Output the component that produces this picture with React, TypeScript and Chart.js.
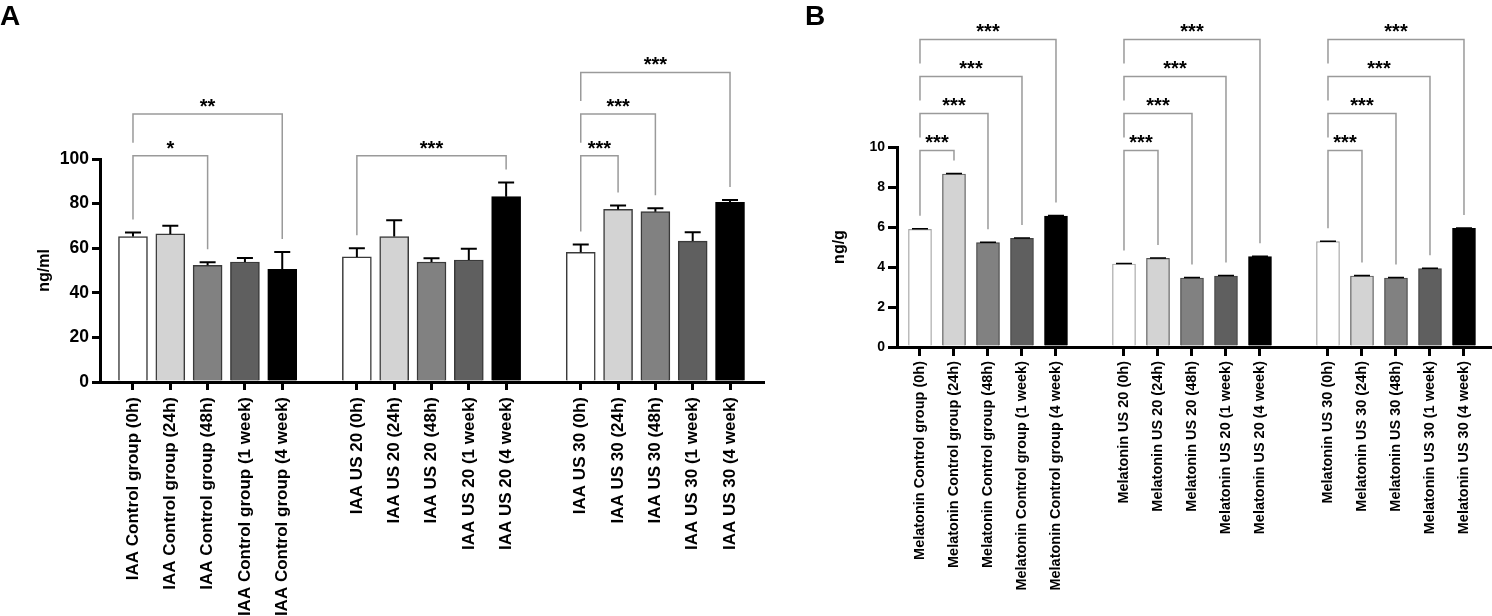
import React, { useEffect, useRef } from 'react';
import { Chart, registerables } from 'chart.js';

Chart.register(...registerables);

const FONT = "'Liberation Sans', Arial, Helvetica, sans-serif";

// ---------- Panel A data ----------
const categoriesA = [
  'IAA Control group (0h)',
  'IAA Control group (24h)',
  'IAA Control group (48h)',
  'IAA Control group (1 week)',
  'IAA Control group (4 week)',
  'IAA US 20 (0h)',
  'IAA US 20 (24h)',
  'IAA US 20 (48h)',
  'IAA US 20 (1 week)',
  'IAA US 20 (4 week)',
  'IAA US 30 (0h)',
  'IAA US 30 (24h)',
  'IAA US 30 (48h)',
  'IAA US 30 (1 week)',
  'IAA US 30 (4 week)',
];
const valuesA = [65.2, 66.4, 52.3, 53.8, 50.5, 56.1, 65.2, 53.8, 54.7, 83.1, 58.2, 77.4, 76.4, 63.2, 80.6];
const errorsA = [1.8, 3.7, 1.4, 1.8, 7.8, 3.9, 7.3, 1.7, 5.1, 6.4, 3.5, 1.8, 1.5, 3.9, 1.0];
const yTicksA = [0, 20, 40, 60, 80, 100];
// [fromBar, toBar, stackLevel, label]
const bracketsA: [number, number, number, string][] = [
  [0, 2, 0, '*'],
  [0, 4, 1, '**'],
  [5, 9, 0, '***'],
  [10, 11, 0, '***'],
  [10, 12, 1, '***'],
  [10, 14, 2, '***'],
];

// ---------- Panel B data ----------
const categoriesB = [
  'Melatonin Control group (0h)',
  'Melatonin Control group (24h)',
  'Melatonin Control group (48h)',
  'Melatonin Control group (1 week)',
  'Melatonin Control group (4 week)',
  'Melatonin US 20 (0h)',
  'Melatonin US 20 (24h)',
  'Melatonin US 20 (48h)',
  'Melatonin US 20 (1 week)',
  'Melatonin US 20 (4 week)',
  'Melatonin US 30 (0h)',
  'Melatonin US 30 (24h)',
  'Melatonin US 30 (48h)',
  'Melatonin US 30 (1 week)',
  'Melatonin US 30 (4 week)',
];
const valuesB = [5.88, 8.65, 5.22, 5.43, 6.55, 4.15, 4.43, 3.45, 3.55, 4.52, 5.27, 3.55, 3.45, 3.92, 5.93];
const errorsB = [0.03, 0.02, 0.02, 0.02, 0.02, 0.03, 0.02, 0.02, 0.03, 0.02, 0.02, 0.03, 0.02, 0.02, 0.02];
const yTicksB = [0, 2, 4, 6, 8, 10];
const bracketsB: [number, number, number, string][] = [
  [0, 1, 0, '***'],
  [0, 2, 1, '***'],
  [0, 3, 2, '***'],
  [0, 4, 3, '***'],
  [5, 6, 0, '***'],
  [5, 7, 1, '***'],
  [5, 8, 2, '***'],
  [5, 9, 3, '***'],
  [10, 11, 0, '***'],
  [10, 12, 1, '***'],
  [10, 13, 2, '***'],
  [10, 14, 3, '***'],
];

const barColors = ['#ffffff', '#d3d3d3', '#818181', '#5f5f5f', '#000000'];

// one empty slot between groups of five
const slot = (i: number) => i + Math.floor(i / 5);

type PanelCfg = {
  letter: string;
  letterX: number;
  width: number;
  height: number;
  padTop: number;
  padRight: number;
  yWidth: number;
  xHeight: number;
  xMin: number;
  xMax: number;
  yMax: number;
  yTicks: number[];
  yTitle: string;
  yTitlePad: number;
  yTickFont: number;
  yTickLen: number;
  xTickLen: number;
  xLabelFont: any;
  xLabelPad: number;
  categories: string[];
  values: number[];
  errors: number[];
  brackets: [number, number, number, string][];
  bracketBase: number;
  bracketStep: number;
  barThickness: number;
  borderColors: string[];
  borderWidth: number;
  capWidth: number;
  errWidth: number;
};

function makeChart(canvas: HTMLCanvasElement, c: PanelCfg) {
  const overlay = {
    id: 'overlay_' + c.letter,
    afterDatasetsDraw(chart: any) {
      const ctx = chart.ctx;
      const xs = chart.scales.x;
      const ys = chart.scales.y;
      ctx.save();
      ctx.strokeStyle = '#000';
      ctx.lineWidth = c.errWidth;
      c.values.forEach((v, i) => {
        const x = xs.getPixelForValue(slot(i));
        const y0 = ys.getPixelForValue(v);
        const y1 = ys.getPixelForValue(v + c.errors[i]);
        ctx.beginPath();
        ctx.moveTo(x, y0);
        ctx.lineTo(x, y1);
        ctx.moveTo(x - c.capWidth / 2, y1);
        ctx.lineTo(x + c.capWidth / 2, y1);
        ctx.stroke();
      });
      ctx.restore();
    },
    afterDraw(chart: any) {
      const ctx = chart.ctx;
      const xs = chart.scales.x;
      const ys = chart.scales.y;
      const gap = 13;
      const levelPx = (lvl: number) => ys.getPixelForValue(c.bracketBase + lvl * c.bracketStep);
      const legEnd = (j: number, lvl: number) => {
        let px = ys.getPixelForValue(c.values[j] + c.errors[j]);
        for (const b of c.brackets) {
          if (b[2] < lvl && b[0] <= j && j <= b[1]) px = Math.min(px, levelPx(b[2]));
        }
        return px - gap;
      };
      ctx.save();
      ctx.strokeStyle = '#9a9a9a';
      ctx.lineWidth = 1.5;
      ctx.fillStyle = '#000';
      ctx.font = `bold 20px ${FONT}`;
      ctx.textAlign = 'center';
      ctx.textBaseline = 'alphabetic';
      for (const [a, b, lvl, label] of c.brackets) {
        const x1 = xs.getPixelForValue(slot(a));
        const x2 = xs.getPixelForValue(slot(b));
        const yl = levelPx(lvl);
        ctx.beginPath();
        ctx.moveTo(x1, legEnd(a, lvl));
        ctx.lineTo(x1, yl);
        ctx.lineTo(x2, yl);
        ctx.lineTo(x2, legEnd(b, lvl));
        ctx.stroke();
        ctx.fillText(label, (x1 + x2) / 2, yl - 1);
      }
      // panel letter
      ctx.textAlign = 'left';
      ctx.font = `bold 28px ${FONT}`;
      ctx.fillText(c.letter, c.letterX, 25);
      ctx.restore();
    },
  };

  return new Chart(canvas, {
    type: 'bar',
    data: {
      datasets: [
        {
          data: c.values.map((v, i) => ({ x: slot(i), y: v })),
          backgroundColor: c.values.map((_, i) => barColors[i % 5]),
          borderColor: c.values.map((_, i) => c.borderColors[i % 5]),
          borderWidth: c.borderWidth,
          barThickness: c.barThickness,
        } as any,
      ],
    },
    options: {
      responsive: false,
      animation: false,
      devicePixelRatio: 1,
      layout: { padding: { top: c.padTop, right: c.padRight, left: 0, bottom: 0 } },
      plugins: { legend: { display: false }, tooltip: { enabled: false } },
      scales: {
        x: {
          type: 'linear',
          bounds: 'data',
          min: c.xMin,
          max: c.xMax,
          offset: false,
          afterBuildTicks: (s: any) => {
            s.ticks = c.categories.map((_, i) => ({ value: slot(i) }));
          },
          afterFit: (s: any) => {
            s.height = c.xHeight;
          },
          ticks: {
            autoSkip: false,
            minRotation: 90,
            maxRotation: 90,
            padding: c.xLabelPad,
            color: '#000',
            font: c.xLabelFont,
            callback: (_v: any, idx: number) => c.categories[idx] ?? '',
          },
          grid: {
            display: true,
            drawOnChartArea: false,
            drawTicks: true,
            tickLength: c.xTickLen,
            lineWidth: 3,
            color: '#000',
            offset: false,
          },
          border: { display: true, color: '#000', width: 3 },
        },
        y: {
          type: 'linear',
          min: 0,
          max: c.yMax,
          afterBuildTicks: (s: any) => {
            s.ticks = c.yTicks.map((v) => ({ value: v }));
          },
          afterFit: (s: any) => {
            s.width = c.yWidth;
          },
          ticks: {
            color: '#000',
            padding: 3,
            font: { family: FONT, size: c.yTickFont, weight: 'bold' },
          },
          grid: {
            display: true,
            drawOnChartArea: false,
            drawTicks: true,
            tickLength: c.yTickLen,
            lineWidth: 3,
            color: '#000',
          },
          border: { display: true, color: '#000', width: 3 },
          title: {
            display: true,
            text: c.yTitle,
            color: '#000',
            font: { family: FONT, size: 16, weight: 'bold', lineHeight: 1.2 },
            padding: { top: c.yTitlePad, bottom: 0 },
          },
        },
      },
    } as any,
    plugins: [overlay],
  });
}

const cfgA: PanelCfg = {
  letter: 'A',
  letterX: 0,
  width: 780,
  height: 616,
  padTop: 159,
  padRight: 17,
  yWidth: 100,
  xHeight: 234,
  xMin: -0.884,
  xMax: 16.884,
  yMax: 100,
  yTicks: yTicksA,
  yTitle: 'ng/ml',
  yTitlePad: 35,
  yTickFont: 17.5,
  yTickLen: 8,
  xTickLen: 8,
  xLabelFont: { family: FONT, size: 17, weight: 'bold' },
  xLabelPad: 7,
  categories: categoriesA,
  values: valuesA,
  errors: errorsA,
  brackets: bracketsA,
  bracketBase: 101.5,
  bracketStep: 18.65,
  barThickness: 29,
  borderColors: ['#3a3a3a', '#3a3a3a', '#3a3a3a', '#3a3a3a', '#000000'],
  borderWidth: 1.5,
  capWidth: 16,
  errWidth: 2,
};

const cfgB: PanelCfg = {
  letter: 'B',
  letterX: 25,
  width: 712,
  height: 616,
  padTop: 147,
  padRight: 2,
  yWidth: 117,
  xHeight: 269,
  xMin: -0.676,
  xMax: 16.765,
  yMax: 10,
  yTicks: yTicksB,
  yTitle: 'ng/g',
  yTitlePad: 50,
  yTickFont: 14,
  yTickLen: 9,
  xTickLen: 9,
  xLabelFont: { family: FONT, size: 14.5, weight: 'bold' },
  xLabelPad: 5,
  categories: categoriesB,
  values: valuesB,
  errors: errorsB,
  brackets: bracketsB,
  bracketBase: 9.83,
  bracketStep: 1.85,
  barThickness: 23,
  borderColors: ['#a0a0a0', '#555555', '#444444', '#444444', '#000000'],
  borderWidth: 1.2,
  capWidth: 16,
  errWidth: 1.5,
};

function Panel({ cfg, left }: { cfg: PanelCfg; left: number }) {
  const ref = useRef<HTMLCanvasElement | null>(null);
  useEffect(() => {
    if (!ref.current) return;
    const chart = makeChart(ref.current, cfg);
    return () => chart.destroy();
  }, [cfg]);
  return (
    <canvas
      ref={ref}
      width={cfg.width}
      height={cfg.height}
      style={{ position: 'absolute', left, top: 0, width: cfg.width, height: cfg.height }}
    />
  );
}

export default function App() {
  return (
    <div style={{ position: 'absolute', left: 0, top: 0, width: 1492, height: 616, background: '#fff' }}>
      <Panel cfg={cfgA} left={0} />
      <Panel cfg={cfgB} left={780} />
    </div>
  );
}
